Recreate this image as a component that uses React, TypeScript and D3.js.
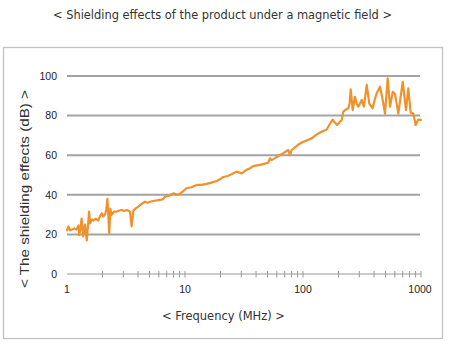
import React from "react";
import * as d3 from "d3";

const freqMHz = [
  1.0, 1.03, 1.06, 1.1, 1.15, 1.2, 1.25, 1.27, 1.3, 1.33, 1.37, 1.42, 1.47, 1.54, 1.57, 1.62, 1.67, 1.75, 1.84, 1.9,
  1.97, 2.03, 2.1, 2.15, 2.2, 2.28, 2.33, 2.39, 2.5, 2.64, 2.75, 2.91, 3.05, 3.21, 3.42, 3.53, 3.65, 3.8, 4.02, 4.3,
  4.58, 4.8, 5.05, 5.5, 6.14, 6.5, 6.77, 7.3, 7.95, 8.77, 9.5, 10.3, 11.3, 12.6, 13.8, 15.3, 17, 18.6, 20, 21.1,
  23, 25, 27.4, 30.2, 33, 35.6, 37.9, 42, 46, 50.8, 52.5, 54.3, 58, 63.8, 68, 75.1, 77.6, 80, 85.5, 92,
  100.6, 108, 118.5, 126, 134.9, 145, 158.6, 168, 178.5, 186, 195, 203, 212.8, 219.6, 230, 242, 248, 253.6, 263.8, 275.6,
  285, 294, 304, 314.4, 328.7, 346.7, 364.7, 389.4, 405, 421.4, 449.5, 473.6, 495.5, 522.2, 546, 575.6, 602.6, 642.4, 700, 746.5,
  780.4, 817.7, 860.5, 901, 948, 1000,
];
const shieldingDb = [
  22, 24, 22, 22.5, 23, 22.5, 24.5, 19.7, 23, 28, 19, 25, 17, 31.5, 25.6, 27.5, 27, 28, 27, 29,
  30.7, 29, 30, 32.3, 38, 20.6, 33, 29.8, 31.5, 31.5, 32, 32.3, 31.8, 32.3, 31.5, 24, 32, 33, 34, 35.5,
  36.5, 36, 36.5, 37, 37.4, 37.8, 39, 39.5, 40.7, 40, 41.5, 43.3, 43.8, 45, 45, 45.5, 46.3, 47, 48, 49,
  49.5, 50.5, 51.7, 50.8, 52.5, 53.4, 54.5, 55, 55.5, 56.2, 58.4, 57.5, 58.5, 60.1, 61, 62.6, 60, 62.5, 64, 65.5,
  66.8, 67.5, 68.5, 69.8, 71, 72, 73, 75.5, 78, 76.5, 75.3, 76.5, 77.8, 82, 83, 83.7, 86, 93.3, 82.8, 89.5,
  86, 84.5, 86, 87.9, 84.5, 95.5, 86, 83.7, 88, 91.3, 94.6, 87.9, 81, 98.8, 84.5, 92, 91, 81, 97, 82.8,
  93.8, 81.5, 81, 75.3, 78, 77.8,
];
const yTicks = [0, 20, 40, 60, 80, 100];
const xLabelTicks = [1, 10, 100, 1000];
const xMinorTicks = [
  2, 3, 4, 5, 6, 7, 8, 9, 10, 20, 30, 40, 50, 60, 70, 80, 90, 100, 200, 300, 400, 500, 600, 700, 800, 900, 1000,
];
const title = "< Shielding effects of the product under a magnetic field >";
const xTitle = "< Frequency (MHz) >";
const yTitle = "< The shielding effects (dB) >";

export default function App() {
  const W = 450;
  const H = 348;
  const x = d3.scaleLog().domain([1, 1000]).range([67, 421]);
  const y = d3.scaleLinear().domain([0, 100]).range([274, 76]);
  const pts = freqMHz.map((f, i) => [f, shieldingDb[i]] as [number, number]);
  const line = d3
    .line<[number, number]>()
    .x((d) => x(d[0]))
    .y((d) => y(d[1]));
  const sans = "'Liberation Sans', Arial, sans-serif";
  const tah = "'DejaVu Sans', 'Liberation Sans', sans-serif";
  return (
    <svg
      width={W}
      height={H}
      style={{ position: "fixed", left: 0, top: 0, background: "#fff" }}
    >
      <rect x={0} y={0} width={W} height={H} fill="#fff" />
      <text
        x={222.5}
        y={19}
        textAnchor="middle"
        fontFamily={tah}
        fontSize={12.5}
        fill="#333"
        textLength={339}
        lengthAdjust="spacingAndGlyphs"
      >
        {title}
      </text>
      <rect x={3.5} y={47.5} width={439} height={291} fill="#fff" stroke="#c2c2c2" strokeWidth={1.3} />
      {yTicks
        .filter((t) => t > 0)
        .map((t) => (
          <line key={t} x1={67} x2={420} y1={y(t)} y2={y(t)} stroke="#a3a3a3" strokeWidth={2} />
        ))}
      <line x1={67} x2={421} y1={y(0)} y2={y(0)} stroke="#9a9a9a" strokeWidth={1.2} />
      {xMinorTicks.map((t) => (
        <line key={t} x1={x(t)} x2={x(t)} y1={y(0) - 3} y2={y(0) + 3.5} stroke="#9a9a9a" strokeWidth={1} />
      ))}
      {yTicks.map((t) => (
        <text
          key={t}
          x={57}
          y={y(t) + 3.8}
          textAnchor="end"
          fontFamily={sans}
          fontSize={10.5}
          fill="#222"
        >
          {t}
        </text>
      ))}
      {xLabelTicks.map((t) => (
        <text
          key={t}
          x={x(t) - (t === 1000 ? 1 : 0)}
          y={293}
          textAnchor="middle"
          fontFamily={sans}
          fontSize={10.5}
          fill="#222"
        >
          {t}
        </text>
      ))}
      <path
        d={line(pts) || ""}
        fill="none"
        stroke="#f0922c"
        strokeWidth={2.2}
        strokeLinejoin="round"
        strokeLinecap="round"
      />
      <text
        x={223.5}
        y={319.5}
        textAnchor="middle"
        fontFamily={tah}
        fontSize={12.5}
        fill="#333"
        textLength={123}
        lengthAdjust="spacingAndGlyphs"
      >
        {xTitle}
      </text>
      <text
        transform={`translate(28.5,189) rotate(-90)`}
        textAnchor="middle"
        fontFamily={sans}
        fontSize={13}
        fill="#333"
        textLength={198}
        lengthAdjust="spacingAndGlyphs"
      >
        {yTitle}
      </text>
    </svg>
  );
}
